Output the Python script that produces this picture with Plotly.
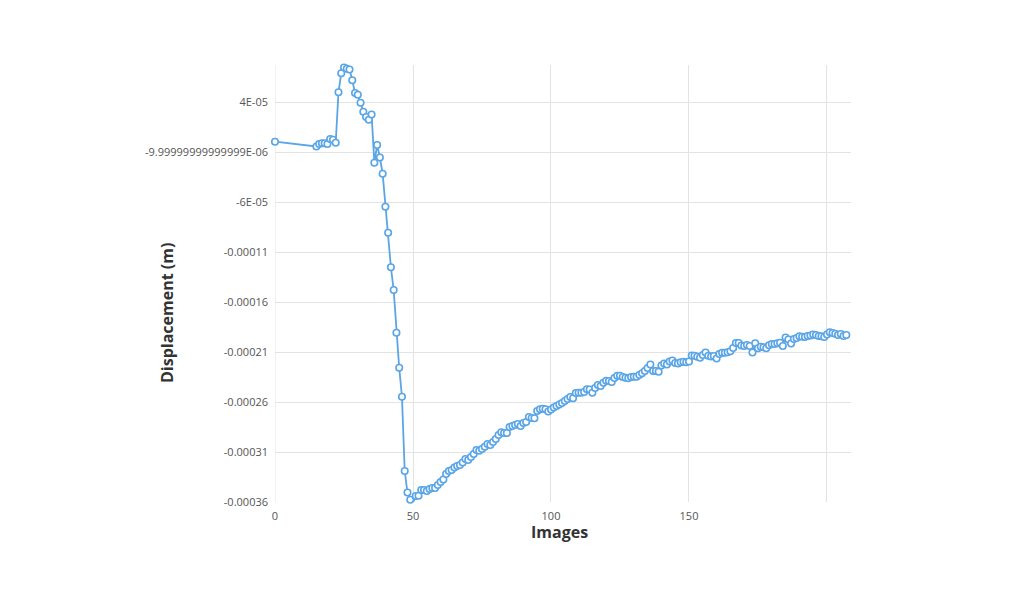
import plotly.graph_objects as go

# Image index
images = [0] + list(range(15, 208))

# Displacement in micrometres (converted to metres below)
disp_um = [
    0.3,
    -4.5, -2.0, -1.3, -1.3, -2.0, 3.0, 2.3, -0.8,            # 15-22
    49.7, 68.7, 74.5, 73.3, 72.5, 61.8, 49.0, 47.3, 39.3,    # 23-31
    30.3, 25.0, 22.3, 27.5, -20.8, -3.0, -15.5, -31.7,       # 32-39
    -64.7, -90.7, -125.3, -148.0, -190.7, -225.7, -254.7,    # 40-46
    -329.0, -350.5, -357.7, -360.7, -354.0, -353.7,          # 47-52
    -348, -348, -349, -347, -346, -346, -343, -340, -337.5, -332,   # 53-62
    -329, -328, -325.5, -324, -323, -320.5, -317, -318, -315, -312, # 63-72
    -308, -308.7, -307, -304.7, -302, -303, -300, -297, -293, -290.3,  # 73-82
    -291, -291, -285, -284, -283, -282, -284, -281, -280, -275,     # 83-92
    -276, -276.3, -269, -267.3, -266.7, -267.3, -269.5, -267.5, -265.5, -264,  # 93-102
    -262.5, -261, -259, -257, -255, -256.3, -251, -250.7, -250.7, -250,  # 103-112
    -247.3, -247.5, -250.7, -246, -243, -244, -240.7, -238.7, -239, -240,  # 113-122
    -236, -233.7, -233.7, -235, -235.7, -236.3, -235, -234.7, -234.7, -233,  # 123-132
    -231.3, -229, -226, -222.5, -229, -229, -229.7, -223.5, -221.5, -222.5,  # 133-142
    -219.5, -218.5, -221, -221.5, -220.3, -219.7, -220.3, -219.5, -213.5, -213.7,  # 143-152
    -214.7, -215.7, -213, -210.5, -213.8, -214.5, -214, -216.5, -212, -210.8,  # 153-162
    -210.7, -210.3, -209.3, -206, -201, -201, -203.5, -204, -203, -204,  # 163-172
    -210.5, -201.3, -206.3, -204.7, -205.3, -206.3, -203.3, -202, -202, -201.3,  # 173-182
    -200.7, -204, -195.5, -197.5, -201.5, -197, -196, -194.2, -194.8, -195,  # 183-192
    -194, -193.5, -192.5, -193, -194, -194.3, -195, -192.5, -190.3, -191,  # 193-202
    -191.8, -193, -192, -194, -193,  # 203-207
]
disp_m = [v * 1e-6 for v in disp_um]

y_tick_vals = [4e-05, -1e-05, -6e-05, -0.00011, -0.00016, -0.00021, -0.00026, -0.00031, -0.00036]
y_tick_text = ["4E-05", "-9.99999999999999E-06", "-6E-05", "-0.00011", "-0.00016",
               "-0.00021", "-0.00026", "-0.00031", "-0.00036"]
x_tick_vals = [0, 50, 100, 150, 200]
x_tick_text = ["0", "50", "100", "150", ""]

blue = "#5aa5e6"
font_family = "Open Sans, Noto Sans, sans-serif"

# page body adds an 8px offset; margins compensate for it
OFF = 8
L, R, T, B = 275 - OFF, 1024 - (851 - OFF), 65 - OFF, 596 - (502 - OFF)

fig = go.Figure()
fig.add_trace(go.Scatter(
    x=images, y=disp_m, mode="lines+markers",
    line=dict(color=blue, width=1.8),
    marker=dict(symbol="circle", size=6.5, color="white",
                line=dict(color=blue, width=1.6)),
    showlegend=False, cliponaxis=False,
))

fig.update_layout(
    width=1024, height=596,
    margin=dict(l=L, r=R, t=T, b=B),
    paper_bgcolor="white", plot_bgcolor="white",
    font=dict(family=font_family, color="#555555", size=11),
    xaxis=dict(
        range=[0, 208.7], tickvals=x_tick_vals, ticktext=x_tick_text,
        showgrid=True, gridcolor="#e3e3e3", gridwidth=1,
        zeroline=False, showline=False, ticks="", ticklabelstandoff=6,
        tickfont=dict(size=11, color="#555555"),
    ),
    yaxis=dict(
        range=[-0.00036, 0.000077], tickvals=y_tick_vals, ticktext=y_tick_text,
        showgrid=True, gridcolor="#e3e3e3", gridwidth=1,
        zeroline=False, showline=False, ticks="", ticklabelstandoff=6,
        tickfont=dict(size=11, color="#555555"),
    ),
)

plot_w = 1024 - L - R
plot_h = 596 - T - B


def paper_xy(px, py):
    # reference pixel position -> paper coordinates
    return (px - OFF - L) / plot_w, (596 - B - (py - OFF)) / plot_h


ix, iy = paper_xy(559, 532)
dx, dy = paper_xy(167, 313)
fig.add_annotation(text="<b>Images</b>", x=ix, y=iy, xref="paper", yref="paper",
                   xanchor="center", yanchor="middle",
                   showarrow=False, font=dict(size=16, color="#333333", family=font_family))
fig.add_annotation(text="<b>Displacement (m)</b>", x=dx, y=dy, xref="paper", yref="paper",
                   xanchor="center", yanchor="middle",
                   showarrow=False, textangle=-90,
                   font=dict(size=16, color="#333333", family=font_family))

fig.add_shape(type="line", xref="x", yref="paper", x0=0, x1=0, y0=0, y1=1,
              line=dict(color="#e3e3e3", width=1), layer="below")

fig.write_html("out.html")
